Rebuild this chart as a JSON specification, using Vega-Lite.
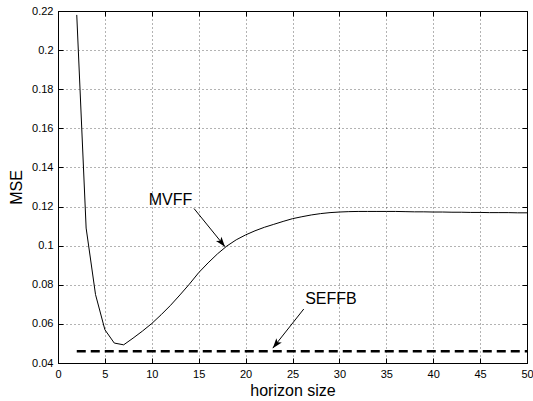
{
  "$schema": "https://vega.github.io/schema/vega-lite/v6.json",
  "width": 469,
  "height": 352,
  "autosize": {"type": "none"},
  "padding": {"left": 58, "top": 11, "right": 6, "bottom": 38},
  "background": "white",
  "config": {
    "view": {"stroke": "black", "strokeWidth": 1},
    "font": "Liberation Sans",
    "axis": {
      "labelFont": "Liberation Sans",
      "labelFontSize": 11,
      "labelColor": "#000",
      "tickColor": "#000",
      "domainColor": "#000",
      "tickSize": -5,
      "gridColor": "#000",
      "gridOpacity": 0.6,
      "gridDash": [1, 3],
      "titleFont": "Liberation Sans",
      "titleFontSize": 16,
      "titleFontWeight": "normal",
      "titleColor": "#000",
      "labelOverlap": false,
      "labelFlush": false
    }
  },
  "datasets": {
    "mvff": [
      {"h": 2, "mse": 0.218}, {"h": 3, "mse": 0.109}, {"h": 4, "mse": 0.075},
      {"h": 5, "mse": 0.057}, {"h": 6, "mse": 0.0502}, {"h": 7, "mse": 0.0493},
      {"h": 8, "mse": 0.0527}, {"h": 9, "mse": 0.0563}, {"h": 10, "mse": 0.0602},
      {"h": 11, "mse": 0.0647}, {"h": 12, "mse": 0.0695}, {"h": 13, "mse": 0.0748},
      {"h": 14, "mse": 0.0803}, {"h": 15, "mse": 0.0862}, {"h": 16, "mse": 0.0912},
      {"h": 17, "mse": 0.0958}, {"h": 18, "mse": 0.0998}, {"h": 19, "mse": 0.103},
      {"h": 20, "mse": 0.1055}, {"h": 21, "mse": 0.1076}, {"h": 22, "mse": 0.1094},
      {"h": 23, "mse": 0.1109}, {"h": 24, "mse": 0.1124}, {"h": 25, "mse": 0.1138},
      {"h": 26, "mse": 0.1148}, {"h": 27, "mse": 0.1157}, {"h": 28, "mse": 0.1164},
      {"h": 29, "mse": 0.1169}, {"h": 30, "mse": 0.1172}, {"h": 31, "mse": 0.1174},
      {"h": 32, "mse": 0.1175}, {"h": 33, "mse": 0.1175}, {"h": 34, "mse": 0.1175},
      {"h": 35, "mse": 0.1175}, {"h": 36, "mse": 0.1175}, {"h": 37, "mse": 0.1174},
      {"h": 38, "mse": 0.1173}, {"h": 39, "mse": 0.1173}, {"h": 40, "mse": 0.1172},
      {"h": 41, "mse": 0.1172}, {"h": 42, "mse": 0.1171}, {"h": 43, "mse": 0.1171},
      {"h": 44, "mse": 0.1170}, {"h": 45, "mse": 0.1170}, {"h": 46, "mse": 0.1169},
      {"h": 47, "mse": 0.1169}, {"h": 48, "mse": 0.1169}, {"h": 49, "mse": 0.1168},
      {"h": 50, "mse": 0.1168}
    ],
    "seffb": [
      {"h": 2, "mse": 0.046}, {"h": 50, "mse": 0.046}
    ],
    "labels": [
      {"label": "MVFF", "x": 12.0, "y": 0.1236},
      {"label": "SEFFB", "x": 29.1, "y": 0.0728}
    ],
    "arrows": [
      {"label": "MVFF", "x0": 14.5, "y0": 0.119, "x1": 17.8, "y1": 0.0995},
      {"label": "SEFFB", "x0": 26.2, "y0": 0.0676, "x1": 22.9, "y1": 0.0476}
    ]
  },
  "resolve": {"axis": {"x": "independent", "y": "independent"}},
  "layer": [
    {
      "data": {"name": "mvff"},
      "mark": {"type": "line", "color": "#000", "strokeWidth": 1},
      "encoding": {
        "x": {
          "field": "h", "type": "quantitative",
          "scale": {"domain": [0, 50], "nice": false, "zero": false},
          "axis": {"values": [0, 5, 10, 15, 20, 25, 30, 35, 40, 45, 50], "title": "horizon size", "labelFontSize": 11, "labelOverlap": false, "labelFlush": false, "labelPadding": 10, "titlePadding": 3}
        },
        "y": {
          "field": "mse", "type": "quantitative",
          "scale": {"domain": [0.04, 0.22], "nice": false, "zero": false},
          "axis": {"values": [0.04, 0.06, 0.08, 0.1, 0.12, 0.14, 0.16, 0.18, 0.2, 0.22], "format": ".2~f", "title": "MSE", "labelFontSize": 11, "labelOverlap": false, "labelFlush": false, "labelPadding": 10, "titlePadding": 7}
        }
      }
    },
    {
      "data": {"name": "seffb"},
      "mark": {"type": "line", "color": "#000", "strokeWidth": 2.5, "strokeDash": [9, 5]},
      "encoding": {
        "x": {"field": "h", "type": "quantitative", "axis": {"orient": "top", "values": [0, 5, 10, 15, 20, 25, 30, 35, 40, 45, 50], "labels": false, "grid": false, "title": null, "domain": false}},
        "y": {"field": "mse", "type": "quantitative", "axis": {"orient": "right", "values": [0.04, 0.06, 0.08, 0.1, 0.12, 0.14, 0.16, 0.18, 0.2, 0.22], "labels": false, "grid": false, "title": null, "domain": false}}
      }
    },
    {
      "data": {"name": "arrows"},
      "mark": {"type": "rule", "color": "#000", "strokeWidth": 1},
      "encoding": {
        "x": {"field": "x0", "type": "quantitative", "axis": null},
        "y": {"field": "y0", "type": "quantitative", "axis": null},
        "x2": {"field": "x1"},
        "y2": {"field": "y1"}
      }
    },
    {
      "data": {"name": "arrows"},
      "transform": [{"filter": "datum.label === 'MVFF'"}],
      "mark": {"type": "point", "filled": true, "color": "#000", "opacity": 1, "size": 400, "angle": 141.4, "shape": "M0,0L-0.35,1L0,0.75L0.35,1Z"},
      "encoding": {
        "x": {"field": "x1", "type": "quantitative", "axis": null},
        "y": {"field": "y1", "type": "quantitative", "axis": null}
      }
    },
    {
      "data": {"name": "arrows"},
      "transform": [{"filter": "datum.label === 'SEFFB'"}],
      "mark": {"type": "point", "filled": true, "color": "#000", "opacity": 1, "size": 400, "angle": 218.8, "shape": "M0,0L-0.35,1L0,0.75L0.35,1Z"},
      "encoding": {
        "x": {"field": "x1", "type": "quantitative", "axis": null},
        "y": {"field": "y1", "type": "quantitative", "axis": null}
      }
    },
    {
      "data": {"name": "labels"},
      "mark": {"type": "text", "color": "#000", "fontSize": 16, "font": "Liberation Sans", "align": "center", "baseline": "middle"},
      "encoding": {
        "x": {"field": "x", "type": "quantitative", "axis": null},
        "y": {"field": "y", "type": "quantitative", "axis": null},
        "text": {"field": "label"}
      }
    }
  ]
}
